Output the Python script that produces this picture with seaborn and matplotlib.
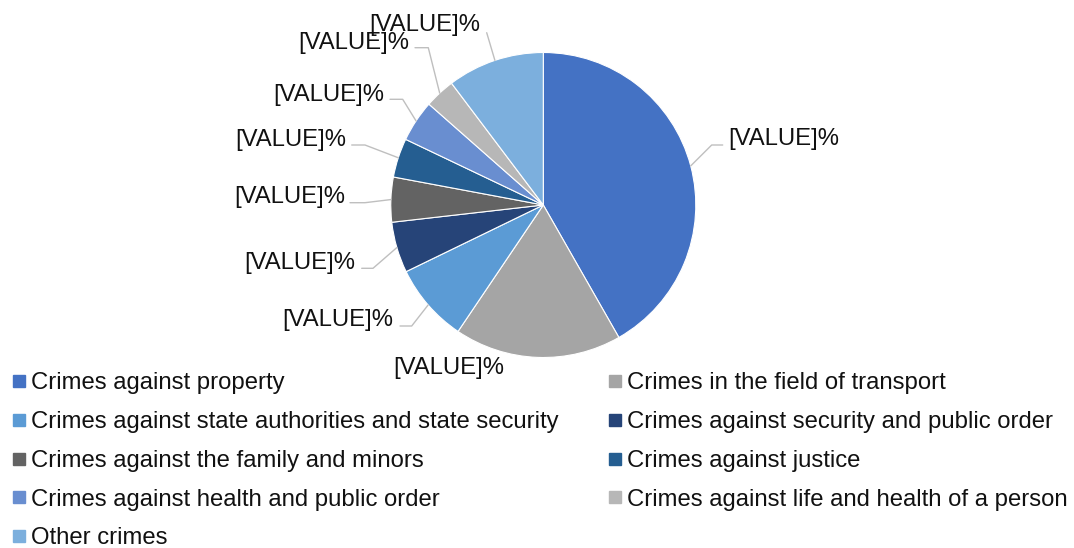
import numpy as np
import matplotlib
matplotlib.use("Agg")
import matplotlib.pyplot as plt
from matplotlib.lines import Line2D
import seaborn as sns

# ---- data -------------------------------------------------------------
categories = [
    "Crimes against property",
    "Crimes in the field of transport",
    "Crimes against state authorities and state security",
    "Crimes against security and public order",
    "Crimes against the family and minors",
    "Crimes against justice",
    "Crimes against health and public order",
    "Crimes against life and health of a person",
    "Other crimes",
]
shares = [41.75, 17.7, 8.36, 5.39, 4.75, 4.14, 4.42, 3.22, 10.28]
label_texts = ["[VALUE]%"] * len(categories)
colors = ["#4472C4", "#A5A5A5", "#5B9BD5", "#264478", "#636363",
          "#255E91", "#698ED0", "#B7B7B7", "#7CAFDD"]

# ---- style ------------------------------------------------------------
sns.set_theme(style="white")
plt.rcParams["font.family"] = ["Liberation Sans", "DejaVu Sans"]
palette = sns.color_palette(colors)

W, H = 1074, 548
fig = plt.figure(figsize=(W / 100, H / 100), dpi=100)
ax = fig.add_axes([0, 0, 1, 1])


def px(x, y):
    """Convert pixel position (origin top-left) to axes data coords."""
    return x, H - y


FS = 17.2
center = px(543.3, 205)
radius = 152.5

wedges, _ = ax.pie(
    shares, colors=palette, startangle=90, counterclock=False,
    center=center, radius=radius,
    wedgeprops=dict(edgecolor="white", linewidth=0.8),
)
ax.set_xlim(0, W)
ax.set_ylim(0, H)
ax.set_aspect("equal")
ax.axis("off")

# label placement: text anchor (x, y, ha) and leader-line points after the rim
label_layout = [
    ((728.3, 137.5, "left"), [(711.7, 145), (722.7, 145)]),
    ((448.5, 366.0, "center"), []),
    ((393.3, 318.0, "right"), [(411.7, 326), (400.0, 326)]),
    ((355.0, 261.0, "right"), [(373.0, 268.3), (361.7, 268.3)]),
    ((345.0, 195.0, "right"), [(365.0, 202.7), (350.0, 202.7)]),
    ((346.0, 138.0, "right"), [(365.0, 145.0), (351.7, 145.0)]),
    ((384.0, 92.5, "right"), [(402.7, 99.3), (390.0, 99.3)]),
    ((409.3, 40.5, "right"), [(428.3, 47.7), (415.0, 47.7)]),
    ((480.0, 22.5, "right"), [(486.7, 32.7)]),
]
TEXT_DY = 2.0

for w, txt, ((tx, ty, ha), pts) in zip(wedges, label_texts, label_layout):
    mid = np.deg2rad((w.theta1 + w.theta2) / 2)
    sx = center[0] + radius * np.cos(mid)
    sy = center[1] + radius * np.sin(mid)
    if pts:
        xs = [sx] + [px(*p)[0] for p in pts]
        ys = [sy] + [px(*p)[1] for p in pts]
        ax.plot(xs, ys, color="#BFBFBF", lw=1.0, zorder=1)
    ax.text(*px(tx, ty + TEXT_DY), txt, ha=ha, va="center", fontsize=FS,
            color="#111111", zorder=3)

# ---- legend (row-wise order across two columns) -----------------------
handles = [Line2D([0], [0], marker="s", linestyle="none", markersize=9.2,
                  markerfacecolor=c, markeredgecolor=c) for c in palette]
order = [0, 2, 4, 6, 8, 1, 3, 5, 7]
leg = fig.legend(
    [handles[i] for i in order], [categories[i] for i in order],
    ncol=2, frameon=False, fontsize=FS,
    loc="upper left", bbox_to_anchor=(11.5 / W, 1 - 372.5 / H),
    borderpad=0, borderaxespad=0,
    handlelength=0.6, handletextpad=0.2, columnspacing=2.07,
    labelspacing=0.70,
)
for t in leg.get_texts():
    t.set_color("#111111")

fig.savefig("out.png", dpi=100)
